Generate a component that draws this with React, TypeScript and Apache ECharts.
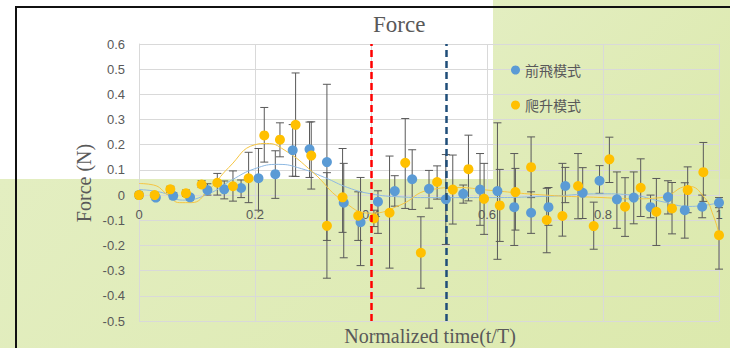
import React, { useEffect, useRef } from "react";
import * as echarts from "echarts";

// 前飛模式 (blue) samples
const blueX = [0, 0.029, 0.059, 0.088, 0.118, 0.147, 0.176, 0.206, 0.235, 0.265, 0.294, 0.324, 0.353, 0.382, 0.412, 0.441, 0.471, 0.5, 0.529, 0.559, 0.588, 0.618, 0.647, 0.676, 0.706, 0.735, 0.765, 0.794, 0.824, 0.853, 0.882, 0.912, 0.941, 0.971, 1];
const blueY = [0, -0.01, -0.003, -0.009, 0.02, 0.023, 0.028, 0.067, 0.083, 0.178, 0.182, 0.131, -0.03, -0.108, -0.026, 0.016, 0.063, 0.025, -0.017, 0.005, 0.022, 0.016, -0.048, -0.07, -0.048, 0.036, 0.009, 0.057, -0.017, -0.01, -0.048, -0.008, -0.06, -0.046, -0.03];
const blueHigh = [0.012, 0.0, 0.01, 0.0, 0.045, 0.056, 0.06, 0.185, 0.176, 0.28, 0.29, 0.44, 0.126, 0.07, 0.017, 0.077, 0.18, 0.098, 0.161, 0.04, 0.165, 0.287, 0.165, 0.013, 0.03, 0.11, 0.109, 0.117, 0.092, 0.092, 0.0, 0.057, 0.049, 0.0, -0.01];
const blueLow = [-0.012, -0.02, -0.015, -0.02, 0.0, -0.015, -0.01, -0.06, -0.013, 0.075, 0.07, -0.18, -0.249, -0.28, -0.152, -0.044, -0.057, -0.052, -0.196, -0.032, -0.12, -0.255, -0.2, -0.152, -0.12, -0.03, -0.093, 0.007, -0.132, -0.114, -0.09, -0.075, -0.171, -0.09, -0.05];

// 爬升模式 (yellow) samples
const yellowX = [0, 0.027, 0.054, 0.081, 0.108, 0.135, 0.162, 0.189, 0.216, 0.243, 0.27, 0.297, 0.324, 0.351, 0.378, 0.405, 0.432, 0.459, 0.486, 0.514, 0.541, 0.568, 0.595, 0.622, 0.649, 0.676, 0.703, 0.73, 0.757, 0.784, 0.811, 0.838, 0.865, 0.892, 0.919, 0.946, 0.973, 1];
const yellowY = [0, 0, 0.023, 0.007, 0.042, 0.049, 0.035, 0.067, 0.237, 0.22, 0.279, 0.157, -0.122, -0.009, -0.082, -0.093, -0.07, 0.128, -0.229, 0.052, 0.022, 0.103, -0.015, -0.041, 0.012, 0.111, -0.099, -0.083, 0.036, -0.123, 0.142, -0.046, 0.029, -0.066, -0.053, 0.02, 0.091, -0.159];
const yellowHigh = [0.01, 0.01, 0.035, 0.02, 0.057, 0.086, 0.096, 0.17, 0.348, 0.287, 0.485, 0.291, 0.089, 0.185, 0.013, -0.06, 0.155, 0.304, -0.086, 0.116, 0.159, 0.238, 0.126, 0.102, 0.106, 0.231, 0.027, 0.126, 0.165, -0.028, 0.23, 0.069, 0.144, 0.066, 0.05, 0.112, 0.209, -0.03];
const yellowLow = [-0.01, -0.01, 0.01, -0.005, 0.03, 0.0, -0.024, -0.03, 0.131, 0.152, 0.074, 0.024, -0.33, -0.148, -0.18, -0.125, -0.29, -0.053, -0.37, -0.016, -0.115, -0.023, -0.156, -0.184, -0.139, -0.01, -0.229, -0.163, -0.094, -0.215, 0.05, -0.164, -0.085, -0.2, -0.154, -0.07, -0.025, -0.294];

// trend lines
const blueTrendX = [0, 0.04, 0.075, 0.12, 0.16, 0.2, 0.24, 0.28, 0.32, 0.36, 0.4, 0.45, 0.5, 0.6, 0.7, 0.8, 0.85, 0.9, 0.95, 1];
const blueTrendY = [0.022, 0.01, -0.02, 0.005, 0.06, 0.105, 0.122, 0.105, 0.07, 0.03, 0.005, -0.007, -0.01, -0.01, -0.005, 0.005, 0.0, -0.025, -0.045, -0.03];
const yellowTrendX = [0, 0.025, 0.05, 0.07, 0.09, 0.12, 0.155, 0.2, 0.22, 0.25, 0.3, 0.35, 0.4, 0.45, 0.5, 0.55, 0.6, 0.7, 0.8, 0.85, 0.9, 0.947, 0.975, 0.99, 1];
const yellowTrendY = [0.046, 0.04, 0.0, -0.03, -0.03, 0.02, 0.11, 0.2, 0.205, 0.18, 0.09, -0.02, -0.072, -0.04, 0.02, 0.03, 0.02, 0.0, -0.01, -0.015, -0.01, 0.035, -0.01, -0.08, -0.155];

const markX = [0.4, 0.526];
const markColors = ["#FF0000", "#1F4E79"];

const BLUE = "#5B9BD5";
const YELLOW = "#FFC000";
const GRAY = "#595959";

const zip = (a: number[], b: number[]) => a.map((v, i) => [v, b[i]]);
const zip3 = (a: number[], b: number[], c: number[]) => a.map((v, i) => [v, b[i], c[i]]);

const errRender = (params: any, api: any) => {
  const x = api.value(0);
  const p1 = api.coord([x, api.value(1)]);
  const p2 = api.coord([x, api.value(2)]);
  const w = 4;
  const style = { stroke: GRAY, lineWidth: 1 };
  return {
    type: "group",
    children: [
      { type: "line", shape: { x1: p1[0], y1: p1[1], x2: p2[0], y2: p2[1] }, style },
      { type: "line", shape: { x1: p1[0] - w, y1: p1[1], x2: p1[0] + w, y2: p1[1] }, style },
      { type: "line", shape: { x1: p2[0] - w, y1: p2[1], x2: p2[0] + w, y2: p2[1] }, style },
    ],
  };
};

export default function App() {
  const ref = useRef<HTMLDivElement>(null);
  useEffect(() => {
    const chart = echarts.init(ref.current!, null, { renderer: "svg" });
    const serif = "'Liberation Serif', 'Times New Roman', serif";
    chart.setOption({
      animation: false,
      backgroundColor: "transparent",
      grid: { left: 139, right: 11, top: 44, bottom: 27 },
      legend: {
        data: ["前飛模式", "爬升模式"],
        orient: "vertical",
        left: 506,
        top: 58,
        icon: "circle",
        itemWidth: 9,
        itemHeight: 9,
        itemGap: 21,
        textStyle: { color: GRAY, fontSize: 14, lineHeight: 14, fontFamily: "'Noto Sans CJK TC'" },
      },
      xAxis: {
        type: "value",
        min: 0,
        max: 1,
        interval: 0.2,
        position: "bottom",
        offset: -126,
        axisLine: { onZero: false, lineStyle: { color: "#d9d9d9" } },
        axisTick: { show: false },
        splitLine: { show: true, lineStyle: { color: "#d9d9d9" } },
        axisLabel: {
          color: GRAY,
          fontSize: 13,
          margin: 13,
          fontFamily: "'Liberation Sans', Arial, sans-serif",
          formatter: (v: number) => String(Math.round(v * 10) / 10),
        },
      },
      yAxis: {
        type: "value",
        min: -0.5,
        max: 0.6,
        interval: 0.1,
        axisLine: { show: true, lineStyle: { color: "#d9d9d9" } },
        axisTick: { show: false },
        splitLine: { show: true, lineStyle: { color: "#d9d9d9" } },
        axisLabel: {
          color: GRAY,
          fontSize: 13,
          margin: 14,
          fontFamily: "'Liberation Sans', Arial, sans-serif",
          formatter: (v: number) => String(Math.round(v * 10) / 10),
        },
      },
      graphic: [
        { type: "text", x: 373, y: 24, style: { text: "Force", font: `23px ${serif}`, fill: GRAY, verticalAlign: "middle", align: "left" } },
        { type: "text", x: 84, y: 183, rotation: Math.PI / 2, style: { text: "Force (N)", font: `20px ${serif}`, fill: GRAY, verticalAlign: "middle", align: "center" } },
        { type: "text", x: 430, y: 336, style: { text: "Normalized time(t/T)", font: `20px ${serif}`, fill: GRAY, verticalAlign: "middle", align: "center" } },
      ],
      series: [
        { name: "blueErr", type: "custom", renderItem: errRender, data: zip3(blueX, blueHigh, blueLow), encode: { x: 0, y: [1, 2] }, z: 1, silent: true },
        { name: "yellowErr", type: "custom", renderItem: errRender, data: zip3(yellowX, yellowHigh, yellowLow), encode: { x: 0, y: [1, 2] }, z: 1, silent: true },
        { name: "blueTrend", type: "line", smooth: 0.5, showSymbol: false, data: zip(blueTrendX, blueTrendY), lineStyle: { color: "#8DB8E2", width: 1 }, z: 2, silent: true },
        { name: "yellowTrend", type: "line", smooth: 0.5, showSymbol: false, data: zip(yellowTrendX, yellowTrendY), lineStyle: { color: "#F5C542", width: 1 }, z: 2, silent: true },
        { name: "前飛模式", type: "scatter", data: zip(blueX, blueY), symbolSize: 10, itemStyle: { color: BLUE, opacity: 1 }, z: 3 },
        {
          name: "爬升模式",
          type: "scatter",
          data: zip(yellowX, yellowY),
          symbolSize: 10,
          itemStyle: { color: YELLOW, opacity: 1 },
          z: 4,
          markLine: {
            silent: true,
            symbol: "none",
            label: { show: false },
            z: 5,
            data: markX.map((x, i) => ({ xAxis: x, lineStyle: { color: markColors[i], width: 2.5, type: [7, 4] } })),
          },
        },
      ],
    });
    return () => chart.dispose();
  }, []);

  const green = "linear-gradient(135deg, #e3eec1 0%, #dce9ad 100%)";
  return (
    <div style={{ position: "fixed", left: 0, top: 0, width: 730, height: 348, background: "#ffffff", overflow: "hidden" }}>
      <div style={{ position: "absolute", left: 493, top: 0, width: 237, height: 179, background: green }} />
      <div style={{ position: "absolute", left: 0, top: 179, width: 730, height: 169, background: green }} />
      <div style={{ position: "absolute", left: 16, top: 6, width: 714, height: 2, background: "#111" }} />
      <div style={{ position: "absolute", left: 15, top: 6, width: 2, height: 342, background: "#111" }} />
      <div ref={ref} style={{ position: "absolute", left: 0, top: 0, width: 730, height: 348 }} />
    </div>
  );
}
